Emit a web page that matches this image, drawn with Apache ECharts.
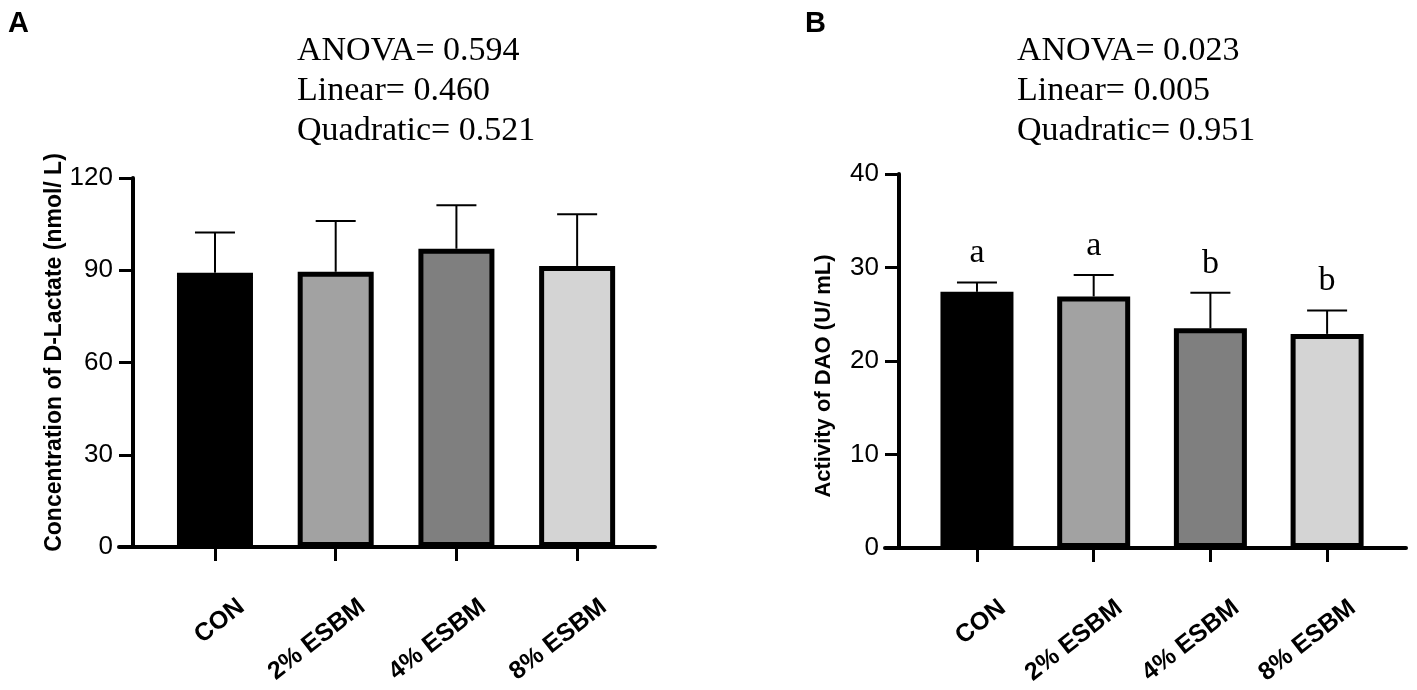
<!DOCTYPE html>
<html style="height: 100%">
<head>
<meta charset="utf-8">
<script src="https://cdn.jsdelivr.net/npm/echarts@6/dist/echarts.min.js"></script>
</head>
<body style="height: 100%; margin: 0; background: #fff">
<div id="container" style="width: 1417px; height: 690px"></div>
<script type="text/javascript">
var categories = ['CON', '2% ESBM', '4% ESBM', '8% ESBM'];
var barColors = ['#000000', '#a2a2a2', '#7f7f7f', '#d4d4d4'];

// panel A: D-lactate
var lactMean = [89.2, 89.5, 97.0, 91.4];
var lactSD = [13.1, 16.5, 14.1, 16.8];
var lactTicks = [0, 30, 60, 90, 120];

// panel B: DAO
var daoMean = [27.4, 26.9, 23.5, 22.9];
var daoSD = [1.0, 2.3, 3.8, 2.5];
var daoLetters = ['a', 'a', 'b', 'b'];
var daoTicks = [0, 10, 20, 30, 40];

var statNames = ['ANOVA= ', 'Linear= ', 'Quadratic= '];
var statsA = ['0.594', '0.460', '0.521'];
var statsB = ['0.023', '0.005', '0.951'];

var SANS = '"Liberation Sans", Arial, sans-serif';
var SERIF = '"Liberation Serif", "Times New Roman", serif';
var LABEL_SHIFT = 0.22;

var dom = document.getElementById('container');
var myChart = echarts.init(dom);

function xAxisFor(grid, min, max) {
	return {
		type: 'value',
		gridIndex: grid,
		min: min,
		max: max,
		splitLine: { show: false },
		axisLine: { show: true, onZero: false, lineStyle: { color: '#000', width: 4 } },
		axisTick: {
			show: true, length: 14, inside: false,
			customValues: [0, 1, 2, 3],
			lineStyle: { color: '#000', width: 3 }
		},
		axisLabel: {
			show: true,
			customValues: [0, 1, 2, 3].map(function (v) { return v + LABEL_SHIFT; }),
			formatter: function (v) { return categories[Math.round(v - LABEL_SHIFT)]; },
			rotate: 38,
			margin: 57,
			color: '#000',
			fontFamily: SANS,
			fontWeight: 'bold',
			fontSize: 25
		}
	};
}

function yAxisFor(grid, ticks, name, nameSize, pad) {
	return {
		type: 'value',
		gridIndex: grid,
		min: ticks[0],
		max: ticks[ticks.length - 1],
		interval: ticks[1] - ticks[0],
		offset: -14,
		name: name,
		nameLocation: 'middle',
		nameRotate: 90,
		nameGap: 64,
		nameTextStyle: {
			color: '#000', fontFamily: SANS, fontWeight: 'bold', fontSize: nameSize,
			padding: pad
		},
		splitLine: { show: false },
		axisLine: { show: true, onZero: false, lineStyle: { color: '#000', width: 4 } },
		axisTick: { show: true, length: 14, lineStyle: { color: '#000', width: 3 } },
		axisLabel: { margin: 20, color: '#000', fontFamily: SANS, fontSize: 26 }
	};
}

function barSeries(grid, means, width) {
	return {
		type: 'bar',
		xAxisIndex: grid,
		yAxisIndex: grid,
		barWidth: width,
		z: 3,
		data: means.map(function (v, i) {
			return {
				value: [i, v],
				itemStyle: { color: barColors[i], borderColor: '#000', borderWidth: 5 }
			};
		})
	};
}

function errorSeries(grid, means, sds, letters) {
	return {
		type: 'custom',
		xAxisIndex: grid,
		yAxisIndex: grid,
		z: 2,
		data: means.map(function (v, i) { return [i, v, v + sds[i]]; }),
		renderItem: function (params, api) {
			var base = api.coord([api.value(0), api.value(1)]);
			var top = api.coord([api.value(0), api.value(2)]);
			var style = { stroke: '#000', lineWidth: 2 };
			var children = [
				{ type: 'line', shape: { x1: base[0], y1: base[1], x2: top[0], y2: top[1] }, style: style },
				{ type: 'line', shape: { x1: top[0] - 20, y1: top[1], x2: top[0] + 20, y2: top[1] }, style: style }
			];
			if (letters) {
				children.push({
					type: 'text',
					x: top[0],
					y: top[1] - 29,
					style: {
						text: letters[params.dataIndex],
						font: '34px ' + SERIF,
						fill: '#000',
						align: 'center',
						verticalAlign: 'middle'
					}
				});
			}
			return { type: 'group', children: children };
		}
	};
}

function statText(x, values) {
	return {
		type: 'text',
		x: x,
		y: 31,
		style: {
			text: statNames.map(function (n, i) { return n + values[i]; }).join('\n'),
			font: '34px ' + SERIF,
			lineHeight: 40,
			fill: '#000',
			verticalAlign: 'top'
		}
	};
}

option = {
	backgroundColor: '#ffffff',
	animation: false,
	grid: [
		{ left: 119, top: 178, width: 536, height: 369 },
		{ left: 885, top: 174, width: 521, height: 374 }
	],
	xAxis: [
		xAxisFor(0, -0.795, 3.645),
		xAxisFor(1, -0.788, 3.676)
	],
	yAxis: [
		yAxisFor(0, lactTicks, 'Concentration of D-Lactate (nmol/ L)', 23, [0, 0, 0, 20]),
		yAxisFor(1, daoTicks, 'Activity of DAO (U/ mL)', 22, [0, 30, 0, 0])
	],
	graphic: [
		{ type: 'text', x: 8, y: 9, style: { text: 'A', font: 'bold 29px ' + SANS, fill: '#000', verticalAlign: 'top' } },
		{ type: 'text', x: 805, y: 9, style: { text: 'B', font: 'bold 29px ' + SANS, fill: '#000', verticalAlign: 'top' } },
		statText(297, statsA),
		statText(1017, statsB)
	],
	series: [
		barSeries(0, lactMean, 76),
		errorSeries(0, lactMean, lactSD, null),
		barSeries(1, daoMean, 73),
		errorSeries(1, daoMean, daoSD, daoLetters)
	]
};

if (option && typeof option === 'object') {
	myChart.setOption(option, true);
}
</script>
</body>
</html>
